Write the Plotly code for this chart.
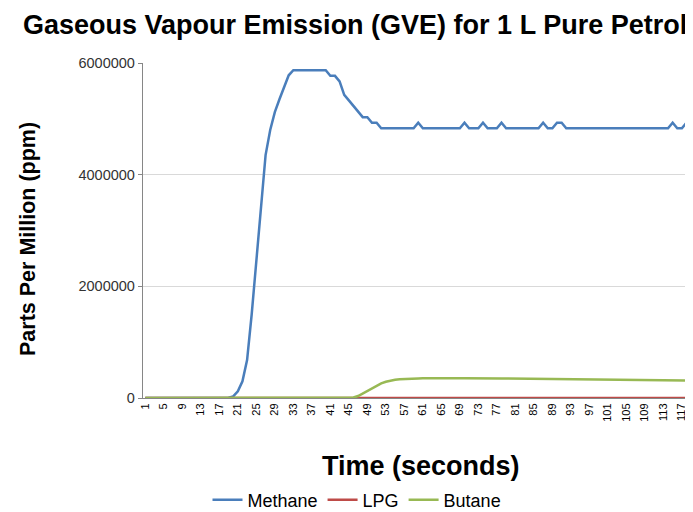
import plotly.graph_objects as go

time_s = list(range(1, 121))

methane = (
    [0] * 18 +
    [5000, 30000, 120000, 300000, 680000, 1500000, 2500000, 3500000, 4350000, 4800000,
     5120000, 5350000, 5570000, 5780000] +
    [5870000] * 8 +
    [5770000, 5770000, 5670000, 5430000, 5330000, 5230000, 5130000, 5030000, 5030000,
     4930000, 4930000] +
    [4830000] * 8 +            # 52-59
    [4930000] +                # 60
    [4830000] * 9 +            # 61-69
    [4930000] +                # 70
    [4830000] * 3 +            # 71-73
    [4930000] +                # 74
    [4830000] * 3 +            # 75-77
    [4930000] +                # 78
    [4830000] * 8 +            # 79-86
    [4930000] +                # 87
    [4830000] * 2 +            # 88-89
    [4930000, 4930000] +       # 90-91
    [4830000] * 23 +           # 92-114
    [4930000] +                # 115
    [4830000] * 2 +            # 116-117
    [4930000] +                # 118
    [4830000] * 2              # 119-120
)

lpg = [0] * 120

butane = (
    [0] * 45 +
    [8000, 35000, 80000, 130000, 180000, 225000, 262000, 292000, 312000, 325000,
     335000, 341000, 345000, 348000, 350000,
     352000, 354000, 355000, 355000, 356000, 356000, 356000, 355000, 355000, 354000,
     355000, 353000, 355000, 352000, 350000, 351000, 349000, 350000, 348000, 347000,
     347000, 346000, 345000, 345000, 344000, 342000, 341000, 340000, 340000, 339000,
     337000, 338000, 336000, 335000, 335000, 334000, 333000, 333000, 332000, 331000,
     330000, 329000, 329000, 328000, 327000, 326000, 325000, 325000, 324000, 322000,
     321000, 320000, 319000, 318000, 317000, 316000, 315000, 314000, 313000, 312000]
)

x_ticks = list(range(1, 120, 4))
y_ticks = [0, 2000000, 4000000, 6000000]

fig = go.Figure()
fig.add_trace(go.Scatter(x=time_s, y=methane, name="Methane", mode="lines",
                         line=dict(color="#4A7EBB", width=2.5)))
fig.add_trace(go.Scatter(x=time_s, y=lpg, name="LPG", mode="lines",
                         line=dict(color="#BE4B48", width=2.5)))
fig.add_trace(go.Scatter(x=time_s, y=butane, name="Butane", mode="lines",
                         line=dict(color="#98B954", width=2.5)))

# page body has an 8px margin, so the figure is sized to the visible area
fig.update_layout(
    width=685, height=504,
    margin=dict(l=135, r=0, t=55, b=114, autoexpand=False),
    paper_bgcolor="white", plot_bgcolor="white",
    font=dict(family="Liberation Sans, Arial, sans-serif", color="#000000"),
    showlegend=True,
    legend=dict(orientation="h", x=(357 - 143) / 550, xanchor="center",
                y=(398 - 500) / 335, yanchor="middle",
                font=dict(size=18, color="#000000"), itemwidth=30, tracegroupgap=0),
    annotations=[
        dict(text="<b>Gaseous Vapour Emission (GVE) for 1 L Pure Petrol</b>",
             xref="paper", yref="paper", x=(355 - 143) / 550, y=(398 - 25) / 335,
             xanchor="center", yanchor="middle", showarrow=False,
             font=dict(size=27, color="#000000")),
        dict(text="<b>Parts Per Million (ppm)</b>", textangle=-90,
             xref="paper", yref="paper", x=(28 - 143) / 550, y=(398 - 239) / 335,
             xanchor="center", yanchor="middle", showarrow=False,
             font=dict(size=21.5, color="#000000")),
        dict(text="<b>Time (seconds)</b>",
             xref="paper", yref="paper", x=(421 - 143) / 550, y=(398 - 466) / 335,
             xanchor="center", yanchor="middle", showarrow=False,
             font=dict(size=27, color="#000000")),
    ],
)

fig.update_xaxes(range=[0.5, 119.4], tickmode="array", tickvals=x_ticks,
                 ticktext=[str(v) for v in x_ticks], tickangle=-90,
                 tickfont=dict(size=11, color="#000000"), automargin=False,
                 showgrid=False, zeroline=False, showline=True, linecolor="#868686",
                 linewidth=1, ticks="", fixedrange=True)
fig.update_yaxes(range=[0, 6000000], tickmode="array", tickvals=y_ticks,
                 ticktext=[str(v) for v in y_ticks], automargin=False,
                 tickfont=dict(size=14.5, color="#333333"),
                 showgrid=True, gridcolor="#D9D9D9", gridwidth=1.3, zeroline=False,
                 showline=True, linecolor="#868686", linewidth=1.3,
                 ticks="outside", ticklen=4, tickcolor="#868686")

fig.write_html("out.html")
